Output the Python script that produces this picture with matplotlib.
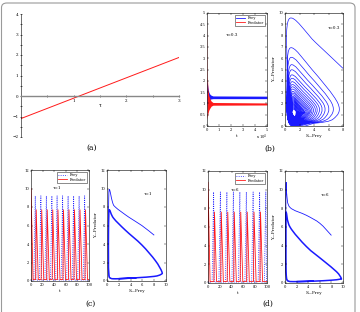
import numpy as np
import matplotlib
matplotlib.use('Agg')
import matplotlib.pyplot as plt
from matplotlib.path import Path
from matplotlib.patches import PathPatch, FancyBboxPatch

plt.rcParams['font.family'] = ['DejaVu Serif']
plt.rcParams['font.size'] = 3
plt.rcParams['axes.linewidth'] = 0.4
plt.rcParams['xtick.direction'] = 'in'
plt.rcParams['ytick.direction'] = 'in'
plt.rcParams['xtick.major.size'] = 1.2
plt.rcParams['ytick.major.size'] = 1.2
plt.rcParams['xtick.major.width'] = 0.3
plt.rcParams['ytick.major.width'] = 0.3
plt.rcParams['xtick.major.pad'] = 1.2
plt.rcParams['ytick.major.pad'] = 1.2

# ---- data ----
# (a) straight line
a_tau = [0, 3]
a_val = [-1.1, 1.88]

# (b) left: envelopes of the damped oscillation, t in units of 1e4
b_t = [0, 0.03, 0.08, 0.15, 0.25, 0.35, 0.5, 5]
b_red_hi = [5.0, 2.2, 1.6, 1.35, 1.2, 1.1, 1.04, 1.02]
b_red_lo = [0.3, 0.4, 0.55, 0.7, 0.8, 0.88, 0.92, 0.93]
b_blue_hi = [2.0, 1.9, 1.7, 1.5, 1.4, 1.36, 1.33, 1.32]
b_blue_lo = [0.8, 1.0, 1.1, 1.15, 1.18, 1.2, 1.21, 1.21]

# (b) right: spiral, one entry per loop
b_start = [(8.0, 5.1), (4.2, 7.4)]
b_peak_x = [0.6, 0.7, 0.75, 0.8, 0.82, 0.85, 0.87, 0.9, 0.92, 0.94, 0.96, 0.98, 1.0,
            1.0, 1.02, 1.04, 1.05, 1.06, 1.08, 1.1, 1.1, 1.12, 1.14, 1.15, 1.16, 1.18]
b_peak_y = [9.5, 6.9, 6.05, 5.4, 4.95, 4.5, 4.2, 3.9, 3.65, 3.45, 3.25, 3.05, 2.9,
            2.75, 2.6, 2.5, 2.4, 2.3, 2.2, 2.1, 2.0, 1.9, 1.8, 1.7, 1.6, 1.5]
b_right_x = [7.3, 6.5, 5.9, 5.4, 5.0, 4.65, 4.35, 4.1, 3.85, 3.65, 3.45, 3.3, 3.15,
             3.0, 2.85, 2.7, 2.6, 2.5, 2.4, 2.3, 2.2, 2.1, 2.0, 1.9, 1.8, 1.7]
b_right_y = [2.0, 1.95, 1.9, 1.85, 1.8, 1.75, 1.7, 1.65, 1.6, 1.55, 1.5, 1.45, 1.4,
             1.38, 1.35, 1.3, 1.28, 1.25, 1.22, 1.2, 1.18, 1.15, 1.12, 1.1, 1.08, 1.05]
b_left_x = [0.3, 0.32, 0.35, 0.38, 0.4, 0.42, 0.45, 0.48, 0.5, 0.52, 0.55, 0.58, 0.6,
            0.62, 0.65, 0.68, 0.7, 0.72, 0.75, 0.78, 0.8, 0.83, 0.86, 0.9, 0.93, 0.96]
b_bottom_y = [0.2, 0.22, 0.24, 0.26, 0.28, 0.3, 0.33, 0.36, 0.39, 0.42, 0.45, 0.48, 0.5,
              0.53, 0.56, 0.59, 0.62, 0.65, 0.68, 0.7, 0.72, 0.75, 0.78, 0.8, 0.82, 0.85]

# (c) time series
c_prey_t = [7.4, 17, 26.5, 36, 45, 54.5, 64, 73.5, 83, 92.5]
c_prey_peak = [9.2] * 10
c_pred_t = [0, 9, 18.5, 28, 37.5, 46.5, 56, 65.5, 75, 84.5, 94]
c_pred_peak = [10.0, 7.7, 7.7, 7.7, 7.7, 7.7, 7.7, 7.7, 7.7, 7.7, 7.7]
# (c) phase plane: transient, then the limit cycle
c_S = [8.0, 5.9, 3.7, 1.4, 0.9, 0.4, 0.28, 0.25, 0.25, 0.3, 0.6, 2.0]
c_Y = [4.95, 6.0, 6.9, 8.0, 8.6, 9.9, 8.5, 5.5, 2.5, 0.8, 0.3, 0.25]
c_cyc_S = [2.0, 5.0, 8.0, 9.1, 9.3, 8.2, 5.9, 3.1, 1.1, 0.4, 0.3, 0.25, 0.25, 0.3, 0.6, 2.0, 5.0]
c_cyc_Y = [0.25, 0.35, 0.5, 0.7, 1.0, 2.2, 3.9, 5.5, 6.8, 7.7, 7.0, 5.0, 2.5, 0.8, 0.3, 0.25, 0.35]

# (d) time series
d_prey_t = [9.5, 21, 32, 43, 54, 65, 76.5, 87.5, 98]
d_prey_peak = [9.75] * 9
d_pred_t = [0, 11, 22.5, 33.5, 44.5, 55.5, 66.5, 78, 89]
d_pred_peak = [10.8, 7.6, 7.6, 7.6, 7.6, 7.6, 7.6, 7.6, 7.6]
# (d) phase plane
d_S = [8.0, 6.0, 3.7, 0.86, 0.3, 0.2, 0.15, 0.15, 0.15, 0.25, 0.6, 2.0]
d_Y = [5.1, 6.4, 7.25, 8.1, 9.5, 10.8, 9.0, 6.0, 2.5, 0.6, 0.2, 0.15]
d_cyc_S = [2.0, 5.0, 8.0, 9.4, 9.7, 8.9, 6.6, 3.7, 0.86, 0.2, 0.15, 0.15, 0.15, 0.25, 0.6, 2.0, 5.0]
d_cyc_Y = [0.15, 0.2, 0.3, 0.4, 0.5, 1.2, 2.4, 3.9, 6.0, 7.6, 6.5, 4.0, 2.0, 0.6, 0.2, 0.15, 0.2]

BLUE = '#1a1aff'
RED = '#ff1a1a'
W, H = 360, 312

fig = plt.figure(figsize=(3.6, 3.12), dpi=100)


def ax_px(l, t, r, b):
    return fig.add_axes([l / W, 1 - b / H, (r - l) / W, (b - t) / H])


def smooth(ax, xs, ys, **kw):
    # smooth curve through the given points (Catmull-Rom as Bezier)
    pts = np.column_stack([xs, ys]).astype(float)
    verts = [pts[0]]
    codes = [Path.MOVETO]
    n = len(pts)
    for i in range(n - 1):
        p0 = pts[max(i - 1, 0)]
        p1 = pts[i]
        p2 = pts[i + 1]
        p3 = pts[min(i + 2, n - 1)]
        verts += [p1 + (p2 - p0) / 6, p2 - (p3 - p1) / 6, p2]
        codes += [Path.CURVE4] * 3
    ax.add_patch(PathPatch(Path(verts, codes), fill=False, **kw))


def series(peak_t, peak_v, rise, fall, low, tmax):
    t, v = [0], [low]
    for pt, pv in zip(peak_t, peak_v):
        if pt - rise > t[-1]:
            t.append(pt - rise)
            v.append(low)
        t.append(pt)
        v.append(pv)
        t.append(min(pt + fall, tmax))
        v.append(low)
    if t[-1] < tmax:
        t.append(tmax)
        v.append(low)
    return t, v


def box_axes(ax):
    for s in ax.spines.values():
        s.set_linewidth(0.4)
    ax.tick_params(top=True, right=True, labelsize=2.6)


# border of the figure
fig.patches.append(FancyBboxPatch((1.5 / W, -0.05), 353.5 / W, 1 - 3 / H + 0.05,
                                  boxstyle='round,pad=0,rounding_size=0.015',
                                  transform=fig.transFigure, fill=False,
                                  edgecolor='#9a9a9a', linewidth=0.8))

# ---- (a) ----
ax = ax_px(21, 14, 179, 137)
ax.plot(a_tau, a_val, color=RED, linewidth=0.7)
ax.set_xlim(0, 3)
ax.set_ylim(-2, 4)
ax.spines['right'].set_color('none')
ax.spines['top'].set_color('none')
ax.spines['bottom'].set_position(('data', 0))
ax.spines['bottom'].set_color('#888888')
ax.spines['bottom'].set_linewidth(1.0)
ax.xaxis.set_ticks_position('bottom')
ax.yaxis.set_ticks_position('left')
ax.set_xticks([1, 2, 3])
ax.set_xticks([0.5, 1.5, 2.5], minor=True)
ax.set_yticks([-2, -1, 0, 1, 2, 3, 4])
ax.set_yticks(np.arange(-2, 4, 0.5), minor=True)
ax.tick_params(which='both', direction='inout', labelsize=3, length=1.6, width=0.4)
ax.tick_params(which='minor', length=1.0)
ax.text(1.5, -0.55, 'τ', fontsize=3.5, ha='center')
ax.patch.set_alpha(0)

# ---- (b) left ----
ax = ax_px(207, 13, 267, 126)
ax.fill_between(b_t, b_blue_lo, b_blue_hi, color=BLUE, linewidth=0)
ax.fill_between(b_t, b_red_lo, b_red_hi, color=RED, linewidth=0)
ax.set_xlim(0, 5)
ax.set_ylim(0, 5)
ax.set_xticks(range(6))
ax.set_yticks(np.arange(0, 5.01, 0.5))
ax.set_yticklabels(['0', '0.5', '1', '1.5', '2', '2.5', '3', '3.5', '4', '4.5', '5'])
box_axes(ax)
ax.plot([], [], color=BLUE, lw=0.6, label='Prey')
ax.plot([], [], color=RED, lw=0.6, label='Predator')
ax.legend(loc='upper right', fontsize=2.6, frameon=True, fancybox=False,
          edgecolor='black', handlelength=2.5, borderpad=0.3, labelspacing=0.2
          ).get_frame().set_linewidth(0.4)
ax.text(1.6, 4.0, 'τ=0.3', fontsize=3)
ax.set_xlabel('t', fontsize=3, labelpad=2)
ax.text(1.0, -0.06, r'x 10$^4$', transform=ax.transAxes, fontsize=2.6, ha='right', va='top')

# ---- (b) right ----
ax = ax_px(285, 13, 343, 126)
sx, sy = [p[0] for p in b_start], [p[1] for p in b_start]
n = len(b_peak_y)
for k in range(n):
    px, py = b_peak_x[k], b_peak_y[k]
    lx, by = b_left_x[k], b_bottom_y[k]
    rx, ry = b_right_x[k], b_right_y[k]
    sx += [px, lx, lx + 0.3, 0.55 * (lx + rx), 0.92 * rx, rx]
    sy += [py, 0.5 * (py + by), by, by + 0.05, by + 0.45, ry]
    if k + 1 < n:
        npx, npy = b_peak_x[k + 1], b_peak_y[k + 1]
        sx.append(npx + 0.45 * (rx - npx))
        sy.append(ry + 0.62 * (npy - ry))
smooth(ax, sx, sy, edgecolor=BLUE, linewidth=0.5)
ax.set_xlim(0, 8)
ax.set_ylim(0, 10)
ax.set_xticks([0, 2, 4, 6, 8])
ax.set_yticks(range(11))
box_axes(ax)
ax.text(5.9, 8.6, 'τ=0.3', fontsize=3)
ax.set_xlabel('S—Prey', fontsize=3, labelpad=2)
ax.set_ylabel('Y—Predator', fontsize=3, labelpad=2)

# ---- (c) / (d) ----
panels = [
    ((31, 170, 89, 281), (107, 170, 166, 281), c_prey_t, c_prey_peak, c_pred_t, c_pred_peak,
     c_S, c_Y, c_cyc_S, c_cyc_Y, 'τ=1', 'τ=1'),
    ((208, 171, 267, 283), (285, 171, 343, 283), d_prey_t, d_prey_peak, d_pred_t, d_pred_peak,
     d_S, d_Y, d_cyc_S, d_cyc_Y, 'τ=6', 'τ=6'),
]
for (lp, rp, pt, pv, qt, qv, S, Y, cS, cY, lab1, lab2) in panels:
    ax = ax_px(*lp)
    t1, v1 = series(pt, pv, 2.5, 1.2, 0.1, 100)
    t2, v2 = series(qt, qv, 1.0, 3.5, 0.15, 100)
    ax.plot(t1, v1, color=BLUE, linestyle=':', linewidth=0.6, label='Prey')
    ax.plot(t2, v2, color=RED, linewidth=0.6, label='Predator')
    ax.set_xlim(0, 100)
    ax.set_ylim(0, 12)
    ax.set_xticks(range(0, 101, 20))
    ax.set_yticks(range(0, 13, 2))
    box_axes(ax)
    ax.legend(loc='upper right', fontsize=2.6, frameon=True, fancybox=False,
              edgecolor='black', handlelength=2.5, borderpad=0.3, labelspacing=0.2
              ).get_frame().set_linewidth(0.4)
    ax.text(38, 9.9, lab1, fontsize=3)
    ax.set_xlabel('t', fontsize=3, labelpad=2)

    ax = ax_px(*rp)
    smooth(ax, S, Y, edgecolor=BLUE, linewidth=0.6)
    smooth(ax, cS, cY, edgecolor=BLUE, linewidth=1.1)
    ax.set_xlim(0, 10)
    ax.set_ylim(0, 12)
    ax.set_xticks(range(0, 11, 2))
    ax.set_yticks(range(0, 13, 2))
    box_axes(ax)
    ax.text(6.2, 9.3, lab2, fontsize=3)
    ax.set_xlabel('S—Prey', fontsize=3, labelpad=2)
    ax.set_ylabel('Y—Predator', fontsize=3, labelpad=2)

# captions
for s, x, y in [('(a)', 92, 148), ('(b)', 270, 149), ('(c)', 90, 304), ('(d)', 268, 304)]:
    fig.text(x / W, 1 - y / H, s, fontsize=5.5, ha='center', va='center')

fig.savefig('out.png', dpi=100)
